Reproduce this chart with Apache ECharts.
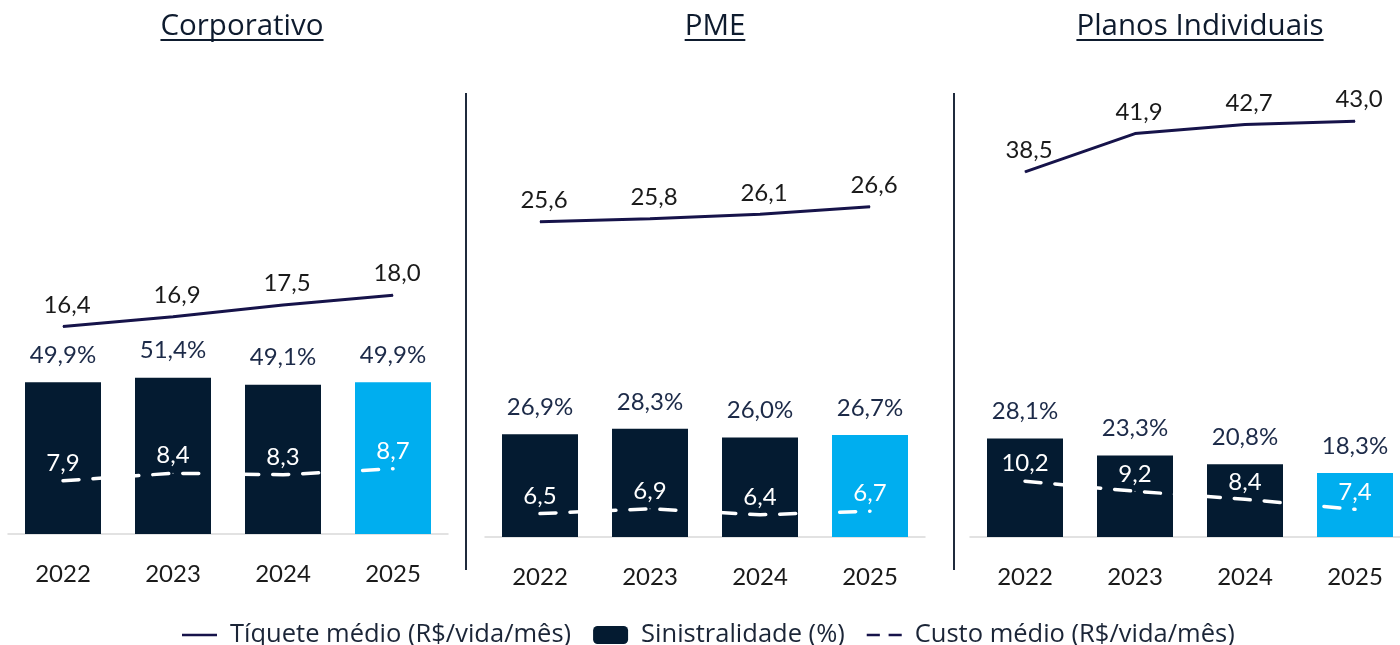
<!DOCTYPE html>
<html>
<head>
<meta charset="utf-8">
<script src="https://cdn.jsdelivr.net/npm/echarts@6/dist/echarts.min.js"></script>
<style>
  html, body { margin: 0; padding: 0; background: #fff; }
  #main { width: 1400px; height: 645px; }
</style>
</head>
<body>
<div id="main"></div>
<script>
// data
var years = ['2022', '2023', '2024', '2025'];
var panelTitles = ['Corporativo', 'PME', 'Planos Individuais'];

var ticketCorp = [16.4, 16.9, 17.5, 18.0];
var sinCorp = [49.9, 51.4, 49.1, 49.9];
var custoCorp = [7.9, 8.4, 8.3, 8.7];

var ticketPme = [25.6, 25.8, 26.1, 26.6];
var sinPme = [26.9, 28.3, 26.0, 26.7];
var custoPme = [6.5, 6.9, 6.4, 6.7];

var ticketInd = [38.5, 41.9, 42.7, 43.0];
var sinInd = [28.1, 23.3, 20.8, 18.3];
var custoInd = [10.2, 9.2, 8.4, 7.4];

var NAMES = ['Tíquete médio (R$/vida/mês)', 'Sinistralidade (%)', 'Custo médio (R$/vida/mês)'];
var NUM_FONT = 'Lato';
var TEXT_FONT = 'Open Sans';
var BAR_DARK = '#041b31';
var BAR_LIGHT = '#00aeef';
var LINE_DARK = '#16134a';

var myChart = echarts.init(document.getElementById('main'));

function fmt(v) {
    return v.toFixed(1).replace('.', ',');
}

// panel layout + hidden axis ranges (so the marks land where they sit in the picture)
var panels = [
    { left: 8, height: 444, bar: [0, 146], ticket: [5.82, 28.47], custo: [4.35, 33.95],
      ticketData: ticketCorp, sinData: sinCorp, custoData: custoCorp },
    { left: 485, height: 447, bar: [0, 116.9], ticket: [4.6, 34.38], custo: [4.55, 41.77],
      ticketData: ticketPme, sinData: sinPme, custoData: custoPme },
    { left: 970, height: 447, bar: [0, 127.6], ticket: [6.06, 45.77], custo: [4.63, 49.3],
      ticketData: ticketInd, sinData: sinInd, custoData: custoInd }
];

var grid = [], xAxis = [], yAxis = [], series = [];

panels.forEach(function (p, k) {
    grid.push({ left: p.left, width: 440, top: 90, height: p.height, outerBoundsMode: 'none' });
    xAxis.push({
        type: 'category',
        gridIndex: k,
        data: years,
        axisLine: { lineStyle: { color: '#d9d9d9', width: 1.5 } },
        axisTick: { show: false },
        axisLabel: { fontFamily: NUM_FONT, fontSize: 24, color: '#1a1a1a', margin: 28 }
    });
    yAxis.push(
        { type: 'value', gridIndex: k, min: p.bar[0], max: p.bar[1], show: false },
        { type: 'value', gridIndex: k, min: p.ticket[0], max: p.ticket[1], show: false },
        { type: 'value', gridIndex: k, min: p.custo[0], max: p.custo[1], show: false }
    );
    series.push({
        name: NAMES[1],
        type: 'bar',
        xAxisIndex: k,
        yAxisIndex: 3 * k,
        barWidth: 76,
        itemStyle: { color: BAR_DARK },
        data: p.sinData.map(function (v, i) {
            return i === 3 ? { value: v, itemStyle: { color: BAR_LIGHT } } : v;
        }),
        label: {
            show: true,
            position: 'top',
            distance: 15,
            fontFamily: NUM_FONT,
            fontSize: 24,
            color: '#1c2a48',
            formatter: function (d) { return fmt(d.value) + '%'; }
        }
    });
    series.push({
        name: NAMES[0],
        type: 'line',
        xAxisIndex: k,
        yAxisIndex: 3 * k + 1,
        symbol: 'circle',
        symbolSize: 1,
        itemStyle: { color: LINE_DARK },
        lineStyle: { color: LINE_DARK, width: 3 },
        data: p.ticketData,
        label: {
            show: true,
            position: 'top',
            distance: 9,
            offset: [4, 0],
            fontFamily: NUM_FONT,
            fontSize: 24,
            color: '#1a1a1a',
            formatter: function (d) { return fmt(d.value); }
        }
    });
    series.push({
        name: NAMES[2],
        type: 'line',
        xAxisIndex: k,
        yAxisIndex: 3 * k + 2,
        symbol: 'circle',
        symbolSize: 1,
        z: 5,
        itemStyle: { color: '#ffffff' },
        lineStyle: { color: '#ffffff', width: 3.5, type: [16, 14], cap: 'round' },
        data: p.custoData,
        label: {
            show: true,
            position: 'top',
            distance: 5,
            fontFamily: NUM_FONT,
            fontSize: 24,
            color: '#ffffff',
            formatter: function (d) { return fmt(d.value); }
        }
    });
});

// titles with underline
var titleCenters = [242, 715, 1200];
var TITLE_SIZE = 29.5;
var measure = document.createElement('canvas').getContext('2d');
measure.font = TITLE_SIZE + 'px "' + TEXT_FONT + '"';
var titles = [], graphics = [];
panelTitles.forEach(function (t, i) {
    titles.push({
        text: t,
        left: titleCenters[i],
        top: 12,
        padding: 0,
        textAlign: 'center',
        textStyle: { fontFamily: TEXT_FONT, fontSize: TITLE_SIZE, fontWeight: 'normal', color: '#0e1b2e' }
    });
    var w = measure.measureText(t).width;
    graphics.push({
        type: 'line',
        shape: { x1: titleCenters[i] - w / 2, y1: 40, x2: titleCenters[i] + w / 2, y2: 40 },
        style: { stroke: '#0e1b2e', lineWidth: 2 }
    });
});
// vertical separators
[466, 954].forEach(function (x) {
    graphics.push({
        type: 'line',
        shape: { x1: x, y1: 93, x2: x, y2: 570 },
        style: { stroke: '#1f2a3c', lineWidth: 2 }
    });
});

var option = {
    animation: false,
    backgroundColor: '#ffffff',
    title: titles,
    graphic: graphics,
    legend: {
        left: 177,
        top: 617,
        itemWidth: 35,
        itemHeight: 18,
        itemGap: 22,
        textStyle: { fontFamily: TEXT_FONT, fontSize: 25.5, color: '#1b2537', padding: [0, 0, 0, 8] },
        data: [
            { name: NAMES[0], icon: 'path://M0 0H40V3H0Z', itemStyle: { color: LINE_DARK } },
            { name: NAMES[1], icon: 'roundRect', itemStyle: { color: BAR_DARK } },
            { name: NAMES[2], icon: 'path://M0 0H15V3H0ZM25 0H40V3H25Z', itemStyle: { color: LINE_DARK } }
        ]
    },
    grid: grid,
    xAxis: xAxis,
    yAxis: yAxis,
    series: series
};

myChart.setOption(option);
</script>
</body>
</html>
